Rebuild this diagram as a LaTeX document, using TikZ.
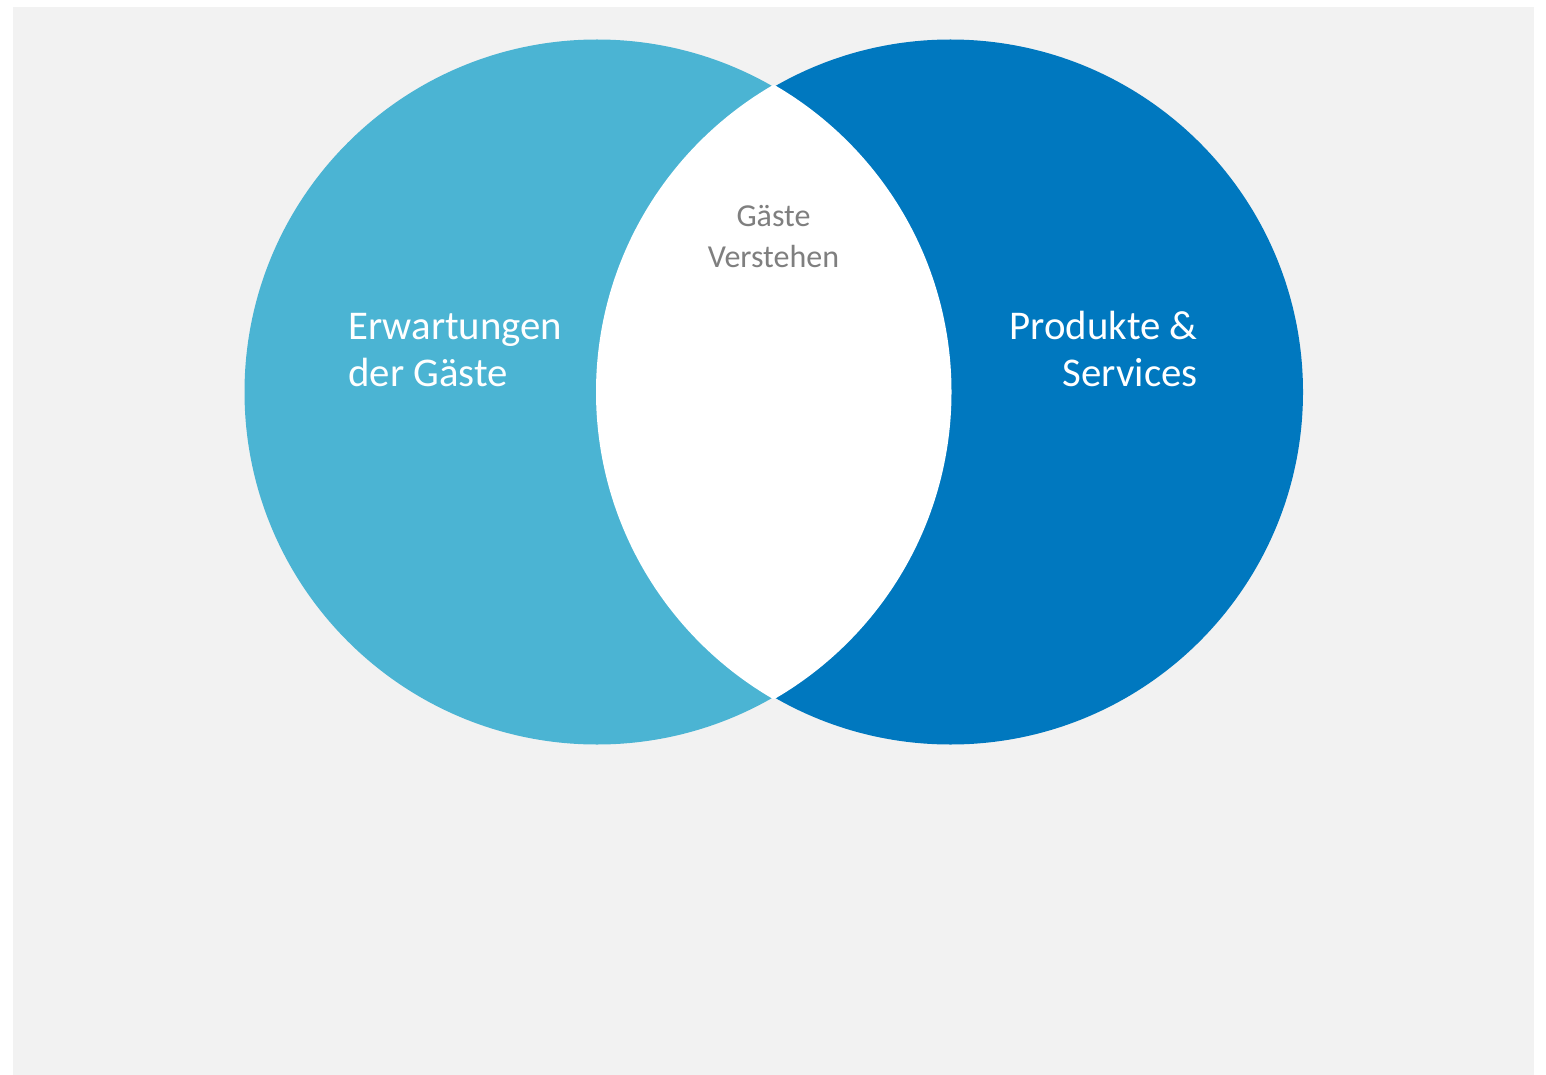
\documentclass[tikz,border=0pt]{standalone}
\usepackage{fontspec}
\setmainfont{Carlito}
\definecolor{gastblue}{HTML}{4BB4D3}
\definecolor{prodblue}{HTML}{0078BF}
\definecolor{panelgray}{HTML}{F2F2F2}
\definecolor{lenstext}{HTML}{7F7F7F}
\tikzset{
  ring/.style={draw=white, line width=2pt},
  bigtext/.style={text=white, inner sep=0pt, font=\fontsize{20.4}{23.5}\selectfont},
  smalltext/.style={text=lenstext, inner sep=0pt, align=center, font=\fontsize{16}{20.5}\selectfont}
}
\begin{document}
\begin{tikzpicture}[x=0.5pt,y=-0.5pt]
  \useasboundingbox (0,0) rectangle (1546,1075);
  \fill[panelgray] (13,7) rectangle (1534,1075);
  % circles
  \fill[gastblue] (597,392) circle (352.5);
  \fill[prodblue] (950.5,392) circle (352.5);
  \begin{scope}
    \clip (597,392) circle (352.5);
    \fill[white] (950.5,392) circle (352.5);
  \end{scope}
  % lens edges
  \begin{scope}
    \clip (950.5,392) circle (354);
    \draw[ring] (597,392) circle (352.5);
  \end{scope}
  \begin{scope}
    \clip (597,392) circle (354);
    \draw[ring] (950.5,392) circle (352.5);
  \end{scope}
  % labels
  \node[bigtext, anchor=base west, align=left] (erwartung) at (348,386) {Erwartungen\\der Gäste};
  \node[bigtext, anchor=base east, align=right] (produkte) at (1198,386) {Produkte \&\\Services};
  \node[smalltext, anchor=base] (verstehen) at (773.5,267) {Gäste\\Verstehen};
\end{tikzpicture}
\end{document}
